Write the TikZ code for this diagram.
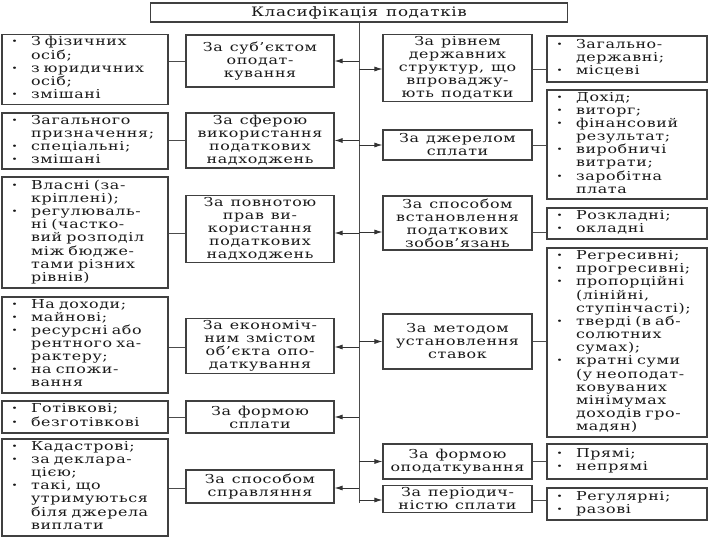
\documentclass[tikz,border=0pt]{standalone}
\usepackage{fontspec}
\setmainfont{DejaVu Serif}[FakeStretch=1.29, LetterSpace=5]
\usetikzlibrary{arrows.meta}
\newcommand{\bu}{\makebox[4pt]{\textbf{·}}}
\newcommand{\blist}[1]{\begin{tabular}{@{}l@{\hspace{14pt}}l@{}}#1\end{tabular}}
\newcommand{\bodyfont}{\fontsize{12.3}{13}\selectfont\spaceskip 7pt plus 1pt minus 1pt\relax}
\newcommand{\titlefont}{\fontsize{13}{14}\selectfont\spaceskip 8pt\relax}
\tikzset{
  tfont/.style={font=\bodyfont},
  box/.style={draw=black!75, line width=1.2pt, align=center, inner sep=2pt, tfont, text=black!90},
  lbox/.style={draw=black!75, line width=1.2pt, align=left, inner xsep=11pt, inner ysep=2pt, tfont, text=black!90, text width=#1},
  arr/.style={draw=black!80, line width=0.8pt, -{Latex[length=8pt,width=5pt]}},
  lnk/.style={draw=black!70, line width=0.8pt}
}
\begin{document}
\begin{tikzpicture}[x=1pt,y=-1pt]
\useasboundingbox (0,0) rectangle (720,540);
\fill[white] (0,0) rectangle (720,540);
% title
\node[box, minimum width=417pt, minimum height=19pt, font=\titlefont] (T) at (359,12.5) {Класифікація податків};
\coordinate (trunkbot) at (359,503);
\draw[lnk] (T.south) -- (trunkbot);
% left category boxes
\node[box, minimum width=148pt, minimum height=52pt] (L1) at (260,61) {За суб'єктом\\оподат-\\кування};
\node[box, minimum width=148pt, minimum height=55pt] (L2) at (260,140.5) {За сферою\\використання\\податкових\\надходжень};
\node[box, minimum width=148pt, minimum height=62pt] (L3) at (260,229) {За повнотою\\прав ви-\\користання\\податкових\\надходжень};
\node[box, minimum width=148pt, minimum height=54pt] (L4) at (260,346) {За економіч-\\ним змістом\\об'єкта опо-\\даткування};
\node[box, minimum width=148pt, minimum height=32pt] (L5) at (260,417) {За формою\\сплати};
\node[box, minimum width=148pt, minimum height=33pt] (L6) at (260,486.5) {За способом\\справляння};
% left lists
\node[lbox=144pt, minimum height=69pt] (LL1) at (85,69.5) {\blist{\bu & З фізичних\\ & осіб;\\ \bu & з юридичних\\ & осіб;\\ \bu & змішані}};
\node[lbox=144pt, minimum height=56pt] (LL2) at (85,141) {\blist{\bu & Загального\\ & призначення;\\ \bu & спеціальні;\\ \bu & змішані}};
\node[lbox=144pt, minimum height=111pt] (LL3) at (85,232.5) {\blist{\bu & Власні (за-\\ & кріплені);\\ \bu & регулюваль-\\ & ні (частко-\\ & вий розподіл\\ & між бюдже-\\ & тами різних\\ & рівнів)}};
\node[lbox=144pt, minimum height=96pt] (LL4) at (85,345) {\blist{\bu & На доходи;\\ \bu & майнові;\\ \bu & ресурсні або\\ & рентного ха-\\ & рактеру;\\ \bu & на спожи-\\ & вання}};
\node[lbox=144pt, minimum height=32pt] (LL5) at (85,417) {\blist{\bu & Готівкові;\\ \bu & безготівкові}};
\node[lbox=144pt, minimum height=97pt] (LL6) at (85,487.5) {\blist{\bu & Кадастрові;\\ \bu & за деклара-\\ & цією;\\ \bu & такі, що\\ & утримуються\\ & біля джерела\\ & виплати}};
% right category boxes
\node[box, minimum width=149pt, minimum height=66pt] (R1) at (457.5,68) {За рівнем\\державних\\структур, що\\впроваджу-\\ють податки};
\node[box, minimum width=149pt, minimum height=30pt] (R2) at (457.5,145) {За джерелом\\сплати};
\node[box, minimum width=149pt, minimum height=54pt] (R3) at (457.5,223) {За способом\\встановлення\\податкових\\зобов'язань};
\node[box, minimum width=149pt, minimum height=55pt] (R4) at (457.5,341.5) {За методом\\установлення\\ставок};
\node[box, minimum width=149pt, minimum height=35pt] (R5) at (457.5,461.5) {За формою\\оподаткування};
\node[box, minimum width=149pt, minimum height=23pt] (R6) at (457.5,499) {За періодич-\\ністю сплати};
% right lists
\node[lbox=138pt, minimum height=46pt] (RL1) at (627,59) {\blist{\bu & Загально-\\ & державні;\\ \bu & місцеві}};
\node[lbox=138pt, minimum height=109pt] (RL2) at (627,144.5) {\blist{\bu & Дохід;\\ \bu & виторг;\\ \bu & фінансовий\\ & результат;\\ \bu & виробничі\\ & витрати;\\ \bu & заробітна\\ & плата}};
\node[lbox=138pt, minimum height=31pt] (RL3) at (627,223.5) {\blist{\bu & Розкладні;\\ \bu & окладні}};
\node[lbox=138pt, minimum height=189pt] (RL4) at (627,342.5) {\blist{\bu & Регресивні;\\ \bu & прогресивні;\\ \bu & пропорційні\\ & (лінійні,\\ & ступінчасті);\\ \bu & тверді (в аб-\\ & солютних\\ & сумах);\\ \bu & кратні суми\\ & (у неоподат-\\ & ковуваних\\ & мінімумах\\ & доходів гро-\\ & мадян)}};
\node[lbox=138pt, minimum height=35pt] (RL5) at (627,461.5) {\blist{\bu & Прямі;\\ \bu & непрямі}};
\node[lbox=138pt, minimum height=32pt] (RL6) at (627,504) {\blist{\bu & Регулярні;\\ \bu & разові}};
% arrows from trunk
\foreach \n/\s in {L1/0,L2/0,L3/-4,L4/-1,L5/0,L6/-1.5}{
  \draw[arr] ([yshift=\s pt]\n.east -| trunkbot) -- ([yshift=\s pt]\n.east);
  \draw[lnk] ([yshift=\s pt]\n.west) -- ([yshift=\s pt]\n.west -| L\n.east);
}
\foreach \n/\s in {R1/-1,R2/0,R3/-9,R4/0,R5/0,R6/-1}{
  \draw[arr] ([yshift=\s pt]\n.west -| trunkbot) -- ([yshift=\s pt]\n.west);
}
\draw[lnk] ([yshift=-1pt]R1.east) -- ([yshift=-1pt]R1.east -| RL1.west);
\draw[lnk] (R2.east) -- (R2.east -| RL2.west);
\draw[lnk] ([yshift=-9pt]R3.east) -- ([yshift=-9pt]R3.east -| RL3.west);
\draw[lnk] (R4.east) -- (R4.east -| RL4.west);
\draw[lnk] (R5.east) -- (R5.east -| RL5.west);
\draw[lnk] ([yshift=-1pt]R6.east) -- ([yshift=-1pt]R6.east -| RL6.west);
\end{tikzpicture}
\end{document}
